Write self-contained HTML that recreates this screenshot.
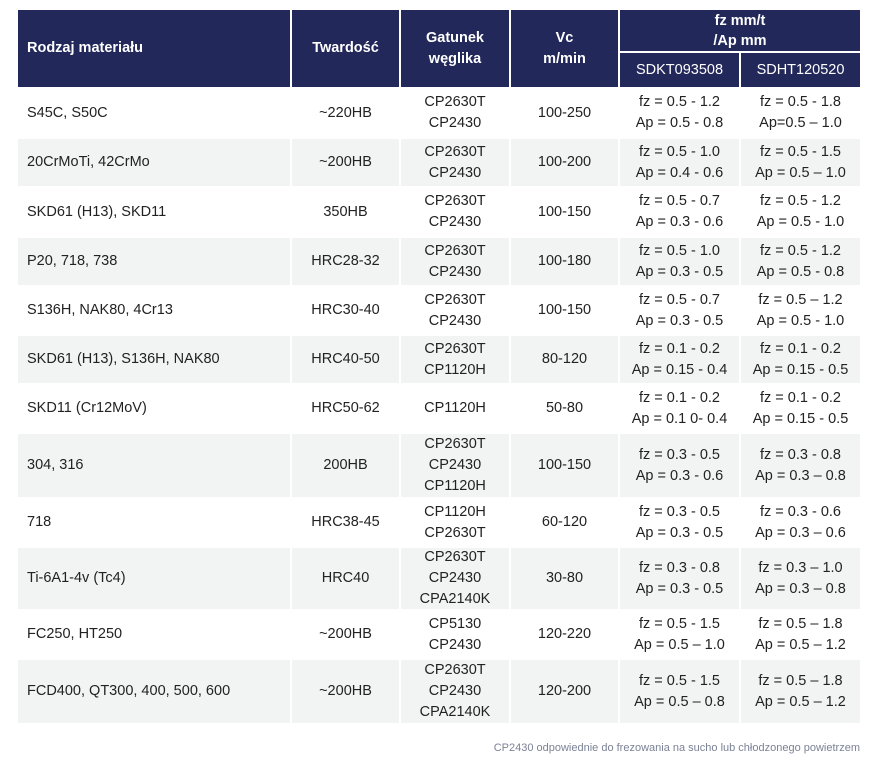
<!DOCTYPE html><html><head><meta charset="utf-8"><style>
body{margin:0;width:875px;height:773px;background:#fff;position:relative;font-family:"Liberation Sans",sans-serif;color:#222;overflow:hidden}
.c{position:absolute;display:flex;align-items:center;justify-content:center;text-align:center;font-size:14.5px;line-height:21px;box-sizing:border-box}
.h{background:#22285a;color:#fff;font-weight:bold;font-size:14.5px;line-height:21px}
.l{justify-content:flex-start;padding-left:9px;text-align:left}
.g{background:#f2f4f3}
.foot{position:absolute;right:15px;top:742px;font-size:11px;color:#7a8296}
</style></head><body>
<div class="c h l" style="left:18px;top:10px;width:272px;height:77px">Rodzaj materiału</div>
<div class="c h" style="left:292px;top:10px;width:107px;height:77px">Twardość</div>
<div class="c h" style="left:401px;top:10px;width:108px;height:77px">Gatunek<br>węglika</div>
<div class="c h" style="left:511px;top:10px;width:107px;height:77px">Vc<br>m/min</div>
<div class="c h" style="left:620px;top:10px;width:240px;height:41px;line-height:20px">fz mm/t<br>/Ap mm</div>
<div class="c h" style="left:620px;top:53px;width:119px;height:34px;font-weight:normal">SDKT093508</div>
<div class="c h" style="left:741px;top:53px;width:119px;height:34px;font-weight:normal">SDHT120520</div>
<div id="rows"></div>
<script>
var tops=[89,139,188,238,287,336,385,434,499,548,611,660,725];
var d=[
["S45C, S50C","~220HB","CP2630T<br>CP2430","100-250","fz = 0.5 - 1.2<br>Ap = 0.5 - 0.8","fz = 0.5 - 1.8<br>Ap=0.5 – 1.0"],
["20CrMoTi, 42CrMo","~200HB","CP2630T<br>CP2430","100-200","fz = 0.5 - 1.0<br>Ap = 0.4 - 0.6","fz = 0.5 - 1.5<br>Ap = 0.5 – 1.0"],
["SKD61 (H13), SKD11","350HB","CP2630T<br>CP2430","100-150","fz = 0.5 - 0.7<br>Ap = 0.3 - 0.6","fz = 0.5 - 1.2<br>Ap = 0.5 - 1.0"],
["P20, 718, 738","HRC28-32","CP2630T<br>CP2430","100-180","fz = 0.5 - 1.0<br>Ap = 0.3 - 0.5","fz = 0.5 - 1.2<br>Ap = 0.5 - 0.8"],
["S136H, NAK80, 4Cr13","HRC30-40","CP2630T<br>CP2430","100-150","fz = 0.5 - 0.7<br>Ap = 0.3 - 0.5","fz = 0.5 – 1.2<br>Ap = 0.5 - 1.0"],
["SKD61 (H13), S136H, NAK80","HRC40-50","CP2630T<br>CP1120H","80-120","fz = 0.1 - 0.2<br>Ap = 0.15 - 0.4","fz = 0.1 - 0.2<br>Ap = 0.15 - 0.5"],
["SKD11 (Cr12MoV)","HRC50-62","CP1120H","50-80","fz = 0.1 - 0.2<br>Ap = 0.1 0- 0.4","fz = 0.1 - 0.2<br>Ap = 0.15 - 0.5"],
["304, 316","200HB","CP2630T<br>CP2430<br>CP1120H","100-150","fz = 0.3 - 0.5<br>Ap = 0.3 - 0.6","fz = 0.3 - 0.8<br>Ap = 0.3 – 0.8"],
["718","HRC38-45","CP1120H<br>CP2630T","60-120","fz = 0.3 - 0.5<br>Ap = 0.3 - 0.5","fz = 0.3 - 0.6<br>Ap = 0.3 – 0.6"],
["Ti-6A1-4v (Tc4)","HRC40","CP2630T<br>CP2430<br>CPA2140K","30-80","fz = 0.3 - 0.8<br>Ap = 0.3 - 0.5","fz = 0.3 – 1.0<br>Ap = 0.3 – 0.8"],
["FC250, HT250","~200HB","CP5130<br>CP2430","120-220","fz = 0.5 - 1.5<br>Ap = 0.5 – 1.0","fz = 0.5 – 1.8<br>Ap = 0.5 – 1.2"],
["FCD400, QT300, 400, 500, 600","~200HB","CP2630T<br>CP2430<br>CPA2140K","120-200","fz = 0.5 - 1.5<br>Ap = 0.5 – 0.8","fz = 0.5 – 1.8<br>Ap = 0.5 – 1.2"]];
var cols=[[18,272],[292,107],[401,108],[511,107],[620,119],[741,119]];
var h="";
for(var i=0;i<d.length;i++){var t=tops[i],hh=tops[i+1]-t-2;
for(var j=0;j<6;j++){h+='<div class="c'+(j==0?' l':'')+(i%2?' g':'')+'" style="left:'+cols[j][0]+'px;top:'+t+'px;width:'+cols[j][1]+'px;height:'+hh+'px">'+d[i][j]+'</div>';}}
document.getElementById("rows").innerHTML=h;
</script>
<div class="foot">CP2430 odpowiednie do frezowania na sucho lub chłodzonego powietrzem</div>
</body></html>
